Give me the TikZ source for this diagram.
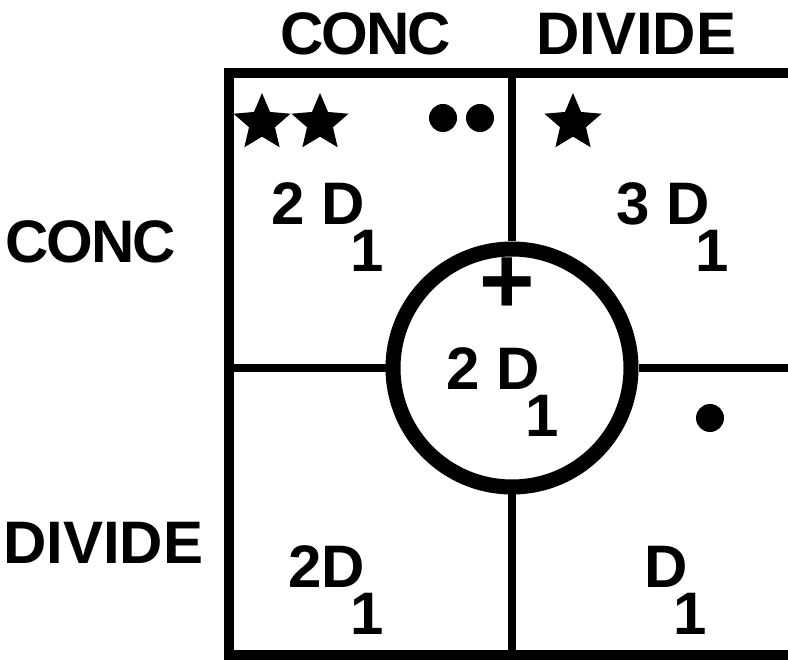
\documentclass[tikz,border=0pt]{standalone}
\usepackage{fontspec}
\setmainfont{Liberation Sans}
\usetikzlibrary{shapes.geometric, positioning}
\newcommand{\lowone}{\kern-14pt\raisebox{-47pt}{1}}
\tikzstyle{heading} = [
    inner sep=0,
    anchor=base west,
    font=\fontsize{60}{60}\selectfont\bfseries
]
\tikzstyle{entry} = [
    inner sep=0,
    anchor=base west,
    font=\fontsize{60}{60}\selectfont\bfseries
]
\tikzstyle{starmark} = [
    star,
    star points=5,
    star point ratio=2.2,
    fill=black,
    inner sep=0,
    minimum size=60
]
\tikzstyle{dotmark} = [circle, fill=black, inner sep=0, minimum size=28]
\tikzstyle{hubring} = [
    circle,
    draw=black,
    line width=15,
    fill=white,
    inner sep=0,
    minimum size=238
]
\tikzstyle{outerframe} = [line width=10]
\tikzstyle{divider} = [line width=8]

\begin{document}
\begin{tikzpicture}[x=1pt, y=-1pt]
\useasboundingbox (0,0) rectangle (788,660);
\clip (0,0) rectangle (788,660);

% Frame
\draw [outerframe] (800,73) -- (229,73) -- (229,655) -- (800,655);
\coordinate (topmid) at (512,73);
\coordinate (botmid) at (512,655);
\coordinate (leftmid) at (229,368);
\coordinate (rightmid) at (800,368);

% Headings
\node (colconc) [heading] at (280,55) {C\kern-2ptO\kern-2ptN\kern-2ptC};
\node (coldiv) [heading] at (536,55) {DIVIDE};
\node (rowconc) [heading] at (5,263) {C\kern-2ptO\kern-2ptN\kern-2ptC};
\node (rowdiv) [heading] at (3,563) {DIVIDE};

% Centre
\node (hub) [hubring] at (512,368) {};
\draw [divider] (topmid) -- (hub.north);
\draw [divider] (hub.south) -- (botmid);
\draw [divider] (leftmid) -- (hub.west);
\draw [divider] (hub.east) -- (rightmid);
\node (plus) [entry, font=\fontsize{95}{95}\selectfont\bfseries] at (479,314) {+};
\node (hubtext) [entry] at (446,390) {2 D\lowone};

% Cells
\node (cc) [entry] at (271,225) {2 D\lowone};
\node (cd) [entry] at (616,225) {3 D\lowone};
\node (dc) [entry] at (288,587) {2D\lowone};
\node (dd) [entry] at (644,587) {D\lowone};

% Marks
\node (star1) [starmark] at (262,123) {};
\node (star2) [starmark] at (320,123) {};
\node (star3) [starmark] at (573,123) {};
\node (dot1) [dotmark] at (443,118) {};
\node (dot2) [dotmark] at (480,118) {};
\node (dot3) [dotmark] at (710,418) {};

\end{tikzpicture}
\end{document}
